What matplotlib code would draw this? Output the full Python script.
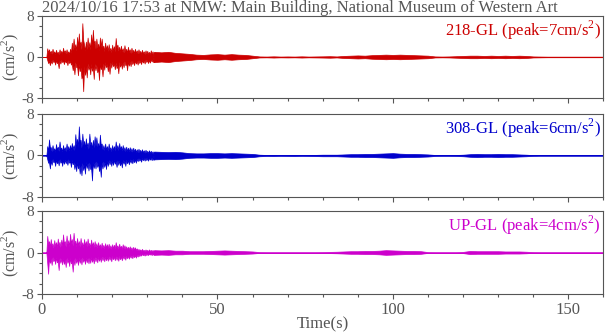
import numpy as np
import matplotlib
matplotlib.use("Agg")
import matplotlib.pyplot as plt
from matplotlib.ticker import MultipleLocator

title = "2024/10/16 17:53 at NMW: Main Building, National Museum of Western Art"
channels = ["218-GL", "308-GL", "UP-GL"]
peaks = [7, 6, 4]
colors = ["#cc0000", "#0000cc", "#cc00cc"]

# strong-motion part: positive / negative extremes every 0.5 s from t = 0 to 31.5 s
t_main = np.arange(0, 32, 0.5)
up_218 = [0, 0, 0, 1.7, 1.5, 1.2, 1.6, 1.1, 1.4, 1.0, 1.5, 1.2, 1.8, 1.3, 1.5, 1.1,
          1.6, 2.8, 3.6, 2.5, 3.9, 4.6, 3.0, 6.6, 2.4, 3.0, 3.8, 2.9, 4.4, 5.3, 3.2, 3.6,
          2.6, 3.8, 3.6, 2.2, 2.8, 2.3, 2.5, 1.8, 2.4, 2.1, 3.7, 2.4, 2.0, 2.2, 1.7, 2.3,
          1.6, 2.0, 1.5, 1.8, 1.4, 1.6, 1.3, 1.5, 1.2, 1.4, 1.1, 1.3, 1.2, 1.0, 1.3, 1.1]
lo_218 = [0, 0, 0, -1.2, -1.6, -1.3, -1.0, -1.5, -1.2, -2.2, -1.3, -1.0, -1.4, -1.1, -1.6, -1.2,
          -1.5, -2.6, -3.4, -2.0, -3.6, -2.8, -4.2, -6.7, -3.5, -4.0, -2.5, -3.4, -2.7, -4.3, -2.6, -3.0,
          -4.5, -2.4, -3.8, -2.5, -2.0, -2.8, -3.3, -2.1, -1.8, -2.4, -2.2, -3.2, -1.9, -2.3, -2.0, -1.6,
          -2.6, -1.7, -1.8, -1.4, -1.6, -1.3, -1.5, -1.2, -1.4, -1.1, -1.3, -1.0, -1.2, -1.1, -0.9, -1.0]
up_308 = [0, 0, 0, 1.8, 3.1, 1.6, 2.0, 1.4, 2.2, 1.7, 2.7, 1.5, 2.0, 1.6, 2.3, 1.8,
          2.0, 2.4, 2.0, 4.1, 3.2, 5.6, 3.0, 4.2, 2.8, 3.3, 2.5, 4.2, 2.6, 3.0, 3.7, 3.5,
          2.4, 4.0, 2.3, 2.0, 2.3, 1.8, 2.3, 1.6, 2.0, 1.8, 2.7, 2.0, 2.4, 1.8, 2.0, 1.6,
          1.7, 1.5, 1.6, 1.4, 1.5, 1.3, 1.2, 1.3, 1.1, 1.2, 1.0, 1.1, 0.9, 1.0, 0.9, 0.8]
lo_308 = [0, 0, 0, -1.4, -2.5, -1.8, -1.3, -2.0, -1.5, -1.9, -1.4, -2.0, -1.6, -1.5, -1.8, -1.4,
          -2.2, -1.7, -2.6, -3.0, -2.5, -3.5, -3.8, -2.8, -3.5, -2.4, -2.9, -2.6, -4.8, -2.4, -2.5, -2.2,
          -3.0, -4.1, -2.5, -2.2, -2.6, -2.0, -1.7, -2.0, -1.8, -1.6, -2.2, -1.8, -1.9, -2.3, -1.6, -2.0,
          -1.5, -1.7, -1.4, -1.5, -1.3, -1.4, -1.1, -1.0, -1.2, -0.9, -1.0, -0.9, -1.0, -0.8, -0.9, -0.8]
up_up = [0, 0, 0, 3.2, 2.2, 2.6, 1.8, 2.4, 2.0, 2.7, 2.1, 2.5, 3.5, 2.2, 3.3, 2.4,
         3.6, 2.6, 3.8, 2.3, 2.8, 2.2, 2.8, 2.0, 2.6, 2.2, 2.7, 1.9, 2.5, 2.0, 2.2, 1.8,
         2.0, 1.6, 1.9, 1.5, 1.8, 1.6, 1.7, 1.4, 1.6, 1.5, 2.0, 1.4, 1.7, 1.3, 1.6, 1.4,
         1.2, 1.1, 1.2, 1.0, 1.1, 1.0, 0.8, 0.7, 0.6, 0.7, 0.5, 0.6, 0.5, 0.6, 0.5, 0.5]
lo_up = [0, 0, 0, -4.1, -2.0, -2.4, -1.7, -2.2, -1.9, -3.4, -2.0, -2.3, -2.2, -2.8, -2.0, -2.6,
         -2.1, -3.7, -2.4, -2.0, -2.4, -2.0, -2.3, -1.8, -2.2, -1.9, -2.1, -2.0, -1.8, -2.1, -1.7, -1.9,
         -1.6, -1.8, -1.5, -1.7, -1.5, -1.6, -1.4, -1.7, -1.3, -1.5, -1.4, -1.6, -1.3, -1.5, -1.2, -1.4,
         -1.1, -1.2, -1.0, -1.1, -0.9, -1.0, -0.8, -0.7, -0.6, -0.5, -0.6, -0.5, -0.5, -0.4, -0.5, -0.4]

# coda: envelope amplitude every 2 s from t = 32 to 160 s
t_tail = np.arange(32, 161, 2)
amp_218 = [1.0, 0.9, 1.0, 0.8, 0.7, 0.6, 0.45, 0.4, 0.5, 0.55, 0.45, 0.55, 0.45, 0.4, 0.25, 0.1,
           0.08, 0.12, 0.08, 0.1, 0.08, 0.12, 0.08, 0.1, 0.12, 0.15, 0.1, 0.2, 0.25, 0.3, 0.25, 0.35,
           0.4, 0.45, 0.4, 0.45, 0.4, 0.35, 0.3, 0.25, 0.1, 0.08, 0.1, 0.15, 0.2, 0.25, 0.25, 0.2,
           0.25, 0.2, 0.25, 0.2, 0.25, 0.2, 0.1, 0.08, 0.06, 0.06, 0.06, 0.06, 0.06, 0.06, 0.06, 0.06, 0.06]
amp_308 = [0.75, 0.7, 0.65, 0.7, 0.6, 0.45, 0.4, 0.4, 0.45, 0.45, 0.4, 0.45, 0.4, 0.35, 0.3, 0.15,
           0.1, 0.12, 0.08, 0.1, 0.12, 0.08, 0.1, 0.12, 0.15, 0.15, 0.15, 0.2, 0.25, 0.25, 0.3, 0.3,
           0.35, 0.4, 0.45, 0.35, 0.3, 0.3, 0.25, 0.2, 0.1, 0.08, 0.08, 0.1, 0.15, 0.25, 0.3, 0.25,
           0.25, 0.3, 0.25, 0.25, 0.2, 0.15, 0.08, 0.06, 0.06, 0.06, 0.06, 0.06, 0.06, 0.06, 0.06, 0.06, 0.06]
amp_up = [0.45, 0.4, 0.45, 0.35, 0.35, 0.25, 0.25, 0.25, 0.3, 0.35, 0.4, 0.35, 0.3, 0.25, 0.2, 0.08,
          0.06, 0.06, 0.06, 0.06, 0.06, 0.06, 0.06, 0.06, 0.08, 0.12, 0.15, 0.2, 0.25, 0.25, 0.3, 0.3,
          0.35, 0.45, 0.4, 0.35, 0.3, 0.3, 0.25, 0.08, 0.06, 0.06, 0.06, 0.06, 0.12, 0.3, 0.25, 0.25,
          0.25, 0.25, 0.2, 0.2, 0.2, 0.15, 0.08, 0.06, 0.06, 0.06, 0.06, 0.06, 0.06, 0.06, 0.06, 0.06, 0.06]

ups = [up_218, up_308, up_up]
los = [lo_218, lo_308, lo_up]
amps = [amp_218, amp_308, amp_up]

plt.rcParams['font.family'] = ['Liberation Serif', 'DejaVu Serif']
plt.rcParams['mathtext.fontset'] = 'custom'
plt.rcParams['mathtext.rm'] = 'Liberation Serif'
plt.rcParams['axes.unicode_minus'] = False
gray = "#555555"
fs = 12

fig = plt.figure(figsize=(6.05, 3.34), dpi=100)
boxes = [(0.952, 0.707), (0.659, 0.410), (0.368, 0.120)]
left, right = 0.0694, 0.9975

for k in range(3):
    top, bot = boxes[k]
    ax = fig.add_axes([left, bot, right - left, top - bot])
    # spiky envelope of the record: up at t, down at t + 0.25
    tz = np.column_stack([t_main, t_main + 0.25]).ravel()
    yu = np.column_stack([ups[k], np.array(ups[k]) * 0.5]).ravel()
    yl = np.column_stack([np.array(los[k]) * 0.5, los[k]]).ravel()
    ax.fill_between(tz, yl, yu, color=colors[k], lw=0.5, edgecolor=colors[k])
    a = np.array(amps[k])
    ax.fill_between(t_tail, -a, a, color=colors[k], lw=0.5, edgecolor=colors[k])
    ax.fill_between([tz[-1], t_tail[0]], [los[k][-1], -a[0]], [ups[k][-1] * 0.5, a[0]],
                    color=colors[k], lw=0.5, edgecolor=colors[k])
    ax.axhline(0, color=colors[k], lw=0.7)

    ax.set_xlim(0, 160)
    ax.set_ylim(-8, 8)
    ax.xaxis.set_major_locator(MultipleLocator(50))
    ax.xaxis.set_minor_locator(MultipleLocator(10))
    ax.yaxis.set_major_locator(MultipleLocator(8))
    ax.yaxis.set_minor_locator(MultipleLocator(2))
    ax.tick_params(which='both', direction='out', colors=gray, labelsize=fs, width=0.8)
    ax.tick_params(axis='y', labelsize=11)
    ax.tick_params(which='major', length=3.5, pad=2)
    ax.tick_params(which='minor', length=2.5)
    for s in ax.spines.values():
        s.set_color(gray)
        s.set_linewidth(0.8)
    if k < 2:
        ax.tick_params(labelbottom=False)
    else:
        ax.set_xlabel("Time(s)", color=gray, fontsize=fs, labelpad=-1)
    ax.set_ylabel("(cm/s$^2$)", color=gray, fontsize=11.5, va='center')
    ax.yaxis.set_label_coords(-0.056, 0.5)
    ax.text(0.995, 0.97, "%s (peak=%dcm/s$^2$)" % (channels[k], peaks[k]),
            transform=ax.transAxes, ha='right', va='top', color=colors[k], fontsize=fs)
    if k == 0:
        ax.set_title(title, loc='left', color=gray, fontsize=fs, pad=1)

fig.savefig("out.png", dpi=100)
